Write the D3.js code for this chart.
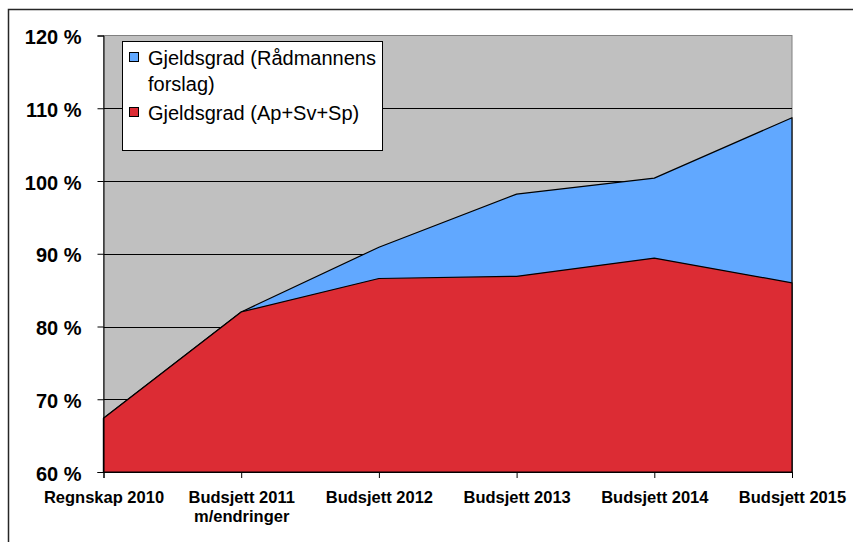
<!DOCTYPE html>
<html>
<head>
<meta charset="utf-8">
<script src="https://cdn.jsdelivr.net/npm/d3@7"></script>
<style>
  body { margin: 0; background: #ffffff; }
  svg { display: block; font-family: "Liberation Sans", Arial, sans-serif; }
</style>
</head>
<body>
<div id="chart-div"></div>
<script>
// categories on the x axis (second line split with \n)
const categories = [
  "Regnskap 2010",
  "Budsjett 2011\nm/endringer",
  "Budsjett 2012",
  "Budsjett 2013",
  "Budsjett 2014",
  "Budsjett 2015"
];
// Gjeldsgrad (Rådmannens forslag), percent
const radmannValues = [67.4, 82.0, 90.9, 98.2, 100.4, 108.7];
// Gjeldsgrad (Ap+Sv+Sp), percent
const apSvSpValues = [67.4, 82.0, 86.6, 86.9, 89.4, 86.0];
const yTicks = [60, 70, 80, 90, 100, 110, 120];
const legendLabels = [
  ["Gjeldsgrad (Rådmannens", "forslag)"],
  ["Gjeldsgrad (Ap+Sv+Sp)"]
];

const width = 853;
const height = 542;
const plot = { left: 103.5, right: 792, top: 35.5, bottom: 472 };
const blue = "#61a8ff";
const red = "#dc2c34";
const plotgrey = "#c0c0c0";

drawChart();

function drawChart() {
  var svg = d3
    .select("#chart-div")
    .append("svg")
    .attr("width", width)
    .attr("height", height);

  // outer chart border, runs off the right and bottom edge
  svg
    .append("rect")
    .attr("x", 8.5)
    .attr("y", 9.5)
    .attr("width", 900)
    .attr("height", 600)
    .attr("fill", "white")
    .attr("stroke", "#262626")
    .attr("stroke-width", 1.5);

  var x = d3
    .scalePoint()
    .domain(d3.range(categories.length))
    .range([plot.left, plot.right]);

  var y = d3
    .scaleLinear()
    .domain([60, 120])
    .range([plot.bottom, plot.top]);

  // plot background
  svg
    .append("rect")
    .attr("x", plot.left)
    .attr("y", plot.top)
    .attr("width", plot.right - plot.left)
    .attr("height", plot.bottom - plot.top)
    .attr("fill", plotgrey)
    .attr("stroke", "#808080")
    .attr("stroke-width", 1);

  // gridlines
  svg
    .append("g")
    .selectAll("line")
    .data(yTicks.filter((d) => d > 60 && d < 120))
    .enter()
    .append("line")
    .attr("x1", plot.left)
    .attr("x2", plot.right)
    .attr("y1", (d) => Math.round(y(d)) + 0.5)
    .attr("y2", (d) => Math.round(y(d)) + 0.5)
    .attr("stroke", "black")
    .attr("stroke-width", 1);

  var area = d3
    .area()
    .x((d, i) => x(i))
    .y0(y(60))
    .y1((d) => y(d));

  // blue series behind, red series in front
  svg
    .append("path")
    .datum(radmannValues)
    .attr("d", area)
    .attr("fill", blue)
    .attr("stroke", "black")
    .attr("stroke-width", 1.2)
    .attr("stroke-linejoin", "round");

  svg
    .append("path")
    .datum(apSvSpValues)
    .attr("d", area)
    .attr("fill", red)
    .attr("stroke", "black")
    .attr("stroke-width", 1.2)
    .attr("stroke-linejoin", "round");

  // y axis
  var yAxis = d3
    .axisLeft(y)
    .tickValues(yTicks)
    .tickSize(6)
    .tickFormat((d) => d + " %");

  var gy = svg
    .append("g")
    .attr("transform", "translate(" + plot.left + ",0)")
    .call(yAxis);
  gy.select(".domain").attr("stroke", "black");
  gy.selectAll(".tick line").attr("stroke", "black");
  gy.selectAll(".tick text")
    .attr("x", -22)
    .attr("dy", "0.4em")
    .attr("fill", "black")
    .style("font-size", "20px")
    .style("font-weight", "bold")
    .style("font-family", "'Liberation Sans', Arial, sans-serif");

  // x axis
  var xAxis = d3.axisBottom(x).tickSize(6).tickFormat("");
  var gx = svg
    .append("g")
    .attr("transform", "translate(0," + plot.bottom + ")")
    .call(xAxis);
  gx.select(".domain").attr("stroke", "black");
  gx.selectAll(".tick line").attr("stroke", "black");

  gx.selectAll(".tick")
    .append("text")
    .attr("fill", "black")
    .attr("text-anchor", "middle")
    .style("font-size", "16.5px")
    .style("font-weight", "bold")
    .style("font-family", "'Liberation Sans', Arial, sans-serif")
    .selectAll("tspan")
    .data((d) => categories[d].split("\n"))
    .enter()
    .append("tspan")
    .attr("x", 0)
    .attr("y", (d, i) => 31 + i * 18.5)
    .text((d) => d);

  drawLegend(svg);
}

function drawLegend(svg) {
  var legend = svg.append("g").attr("transform", "translate(122,41)");

  legend
    .append("rect")
    .attr("x", 0.5)
    .attr("y", 0.5)
    .attr("width", 260)
    .attr("height", 109)
    .attr("fill", "white")
    .attr("stroke", "black")
    .attr("stroke-width", 1);

  var colors = [blue, red];
  var rowY = [11, 66];

  legendLabels.forEach(function (lines, i) {
    legend
      .append("rect")
      .attr("x", 7.5)
      .attr("y", rowY[i] + 0.5)
      .attr("width", 9)
      .attr("height", 9)
      .attr("fill", colors[i])
      .attr("stroke", "black")
      .attr("stroke-width", 1);

    var text = legend
      .append("text")
      .attr("fill", "black")
      .style("font-size", "20px");
    text
      .selectAll("tspan")
      .data(lines)
      .enter()
      .append("tspan")
      .attr("x", 26)
      .attr("y", (d, j) => rowY[i] + 13 + j * 26)
      .text((d) => d);
  });
}
</script>
</body>
</html>
